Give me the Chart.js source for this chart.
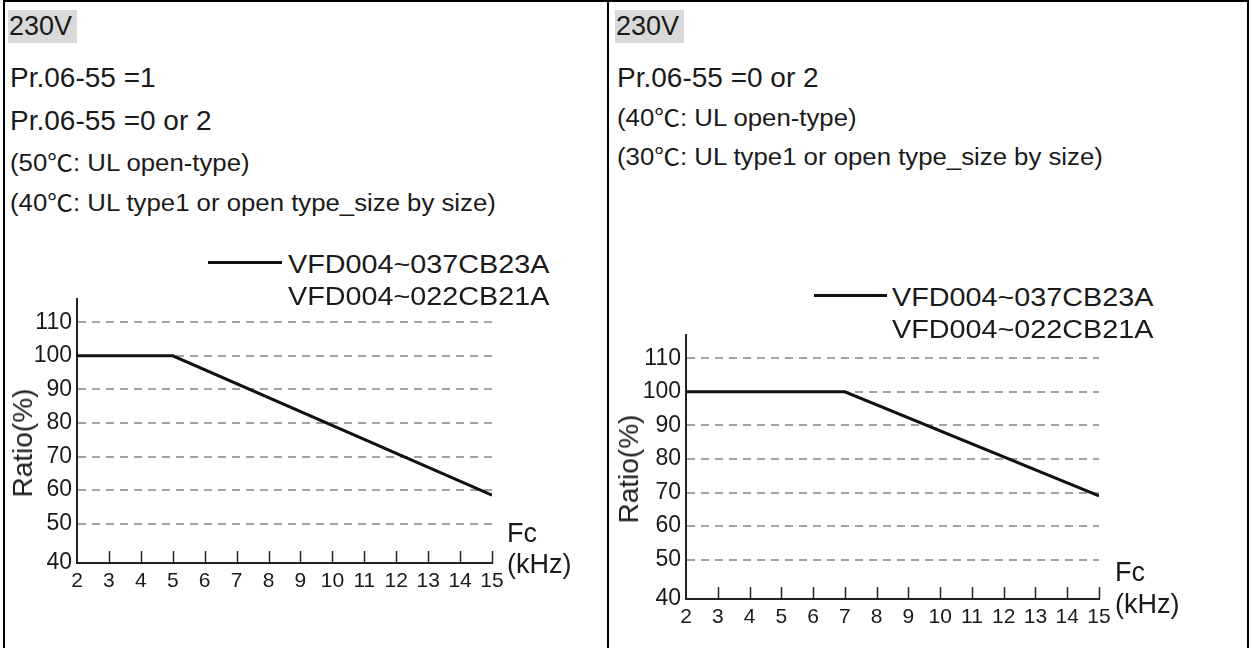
<!DOCTYPE html>
<html>
<head>
<meta charset="utf-8">
<script src="https://cdn.jsdelivr.net/npm/chart.js@4.4.0/dist/chart.umd.min.js"></script>
<style>
  body { margin: 0; background: #fff; }
  #page { position: relative; width: 1252px; height: 648px; overflow: hidden;
          font-family: 'Liberation Sans', Arial, 'Noto Sans CJK SC', sans-serif; color: #1a1a1a; }
  .rule { position: absolute; background: #000; }
  .tag { position: absolute; background: #d9d9d9; }
  .txt { position: absolute; white-space: nowrap; line-height: 1; }
  .swatch { position: absolute; height: 3px; background: #111; }
  canvas { position: absolute; }
</style>
</head>
<body>
<div id="page">
  <div class="rule" style="left:3px;top:0;width:2px;height:648px"></div>
  <div class="rule" style="left:607px;top:0;width:2px;height:648px"></div>
  <div class="rule" style="left:1247px;top:0;width:2px;height:648px"></div>
  <div class="rule" style="left:3px;top:0;width:1246px;height:2px"></div>
  <div class="tag" style="left:8px;top:10px;width:69px;height:33px"></div>
  <div class="tag" style="left:615px;top:10px;width:69px;height:33px"></div>
  <div class="swatch" style="left:208px;top:261px;width:74px"></div>
  <div class="swatch" style="left:814px;top:294px;width:73px"></div>
  <canvas id="chartLeft" width="525" height="319" style="left:5px;top:280px"></canvas>
  <canvas id="chartRight" width="540" height="319" style="left:612px;top:316px"></canvas>
</div>
<script>
// derating curves: carrier frequency (kHz) vs output ratio (%)
const fcLeft = [2, 5, 15];
const ratioLeft = [100, 100, 58.5];
const fcRight = [2, 7, 15];
const ratioRight = [100, 100, 69];

const xTicksMin = 2;
const xTicksMax = 15;
const yTickLabels = ['40', '50', '60', '70', '80', '90', '100', '110'];
// first tick sits on the axis break, drawn lower than a true 40
const yTickValues = [38.3, 50, 60, 70, 80, 90, 100, 110];
const yTop = 117;

const modelNames = ['VFD004~037CB23A', 'VFD004~022CB21A'];

Chart.defaults.font.family = "'Liberation Sans', Arial, sans-serif";
Chart.defaults.color = '#1a1a1a';

const page = document.getElementById('page');

function addText(str, x, base, size, stretch) {
    const el = document.createElement('div');
    el.className = 'txt';
    el.textContent = str;
    el.style.left = x + 'px';
    el.style.top = (base - size * 0.85) + 'px';
    el.style.fontSize = size + 'px';
    if (stretch) {
        el.style.transform = 'scaleX(' + stretch + ')';
        el.style.transformOrigin = '0 0';
    }
    page.appendChild(el);
    return el;
}

function addRotated(str, cx, cy, size) {
    const el = document.createElement('div');
    el.className = 'txt';
    el.textContent = str;
    el.style.left = cx + 'px';
    el.style.top = cy + 'px';
    el.style.fontSize = size + 'px';
    el.style.transform = 'translate(-50%, -50%) rotate(-90deg)';
    page.appendChild(el);
}

// left panel
addText('230V', 9, 36, 27);
addText('Pr.06-55 =1', 10, 88, 28);
addText('Pr.06-55 =0 or 2', 10, 131, 28);
addText('(50\u2103: UL open-type)', 10, 172, 23, 1.12);
addText('(40\u2103: UL type1 or open type_size by size)', 10, 212, 23, 1.12);
addText(modelNames[0], 288, 273, 25, 1.15);
addText(modelNames[1], 288, 305, 25, 1.15);
addRotated('Ratio(%)', 23, 443, 28);
addText('Fc', 507, 543, 27);
addText('(kHz)', 507, 574, 27);

// right panel
addText('230V', 616, 36, 27);
addText('Pr.06-55 =0 or 2', 617, 88, 28);
addText('(40\u2103: UL open-type)', 617, 127, 23, 1.12);
addText('(30\u2103: UL type1 or open type_size by size)', 617, 166, 23, 1.12);
addText(modelNames[0], 892, 306, 25, 1.15);
addText(modelNames[1], 892, 338, 25, 1.15);
addRotated('Ratio(%)', 629, 469, 28);
addText('Fc', 1115, 582, 27);
addText('(kHz)', 1115, 614, 27);

// short tick marks pointing up from the x axis
const innerTicks = {
    id: 'innerTicks',
    afterDatasetsDraw(chart) {
        const {ctx, chartArea, scales: {x}} = chart;
        ctx.save();
        ctx.strokeStyle = '#222';
        ctx.lineWidth = 1.5;
        x.ticks.forEach(t => {
            if (t.value === x.min) return;
            const px = Math.round(x.getPixelForValue(t.value)) + 0.5;
            ctx.beginPath();
            ctx.moveTo(px, chartArea.bottom);
            ctx.lineTo(px, chartArea.bottom - 12);
            ctx.stroke();
        });
        ctx.restore();
    }
};

function makeChart(id, fc, ratio, yWidth, padRight) {
    return new Chart(document.getElementById(id), {
        type: 'line',
        data: {
            datasets: [{
                data: fc.map((f, i) => ({x: f, y: ratio[i]})),
                borderColor: '#111',
                borderWidth: 3,
                pointRadius: 0,
                tension: 0
            }]
        },
        options: {
            responsive: false,
            animation: false,
            layout: { padding: { top: 17, right: padRight, bottom: 0, left: 0 } },
            plugins: {
                legend: { display: false },
                tooltip: { enabled: false }
            },
            scales: {
                x: {
                    type: 'linear',
                    min: xTicksMin,
                    max: xTicksMax,
                    grid: { display: false, drawTicks: false },
                    border: { color: '#222', width: 2 },
                    ticks: { stepSize: 1, autoSkip: false, maxRotation: 0, padding: 6, font: { size: 21 } },
                    afterFit: s => { s.height = 36; }
                },
                y: {
                    min: yTickValues[0],
                    max: yTop,
                    grid: {
                        color: c => c.index === 0 ? 'rgba(0,0,0,0)' : '#a3a3a3',
                        lineWidth: 2,
                        drawTicks: false
                    },
                    border: { color: '#222', width: 2, dash: [8, 6] },
                    afterBuildTicks: s => { s.ticks = yTickValues.map(v => ({value: v})); },
                    ticks: { padding: 5, font: { size: 23 }, callback: (v, i) => yTickLabels[i] },
                    afterFit: s => { s.width = yWidth; }
                }
            }
        },
        plugins: [innerTicks]
    });
}

makeChart('chartLeft', fcLeft, ratioLeft, 72, 38);
makeChart('chartRight', fcRight, ratioRight, 74, 53);
</script>
</body>
</html>
